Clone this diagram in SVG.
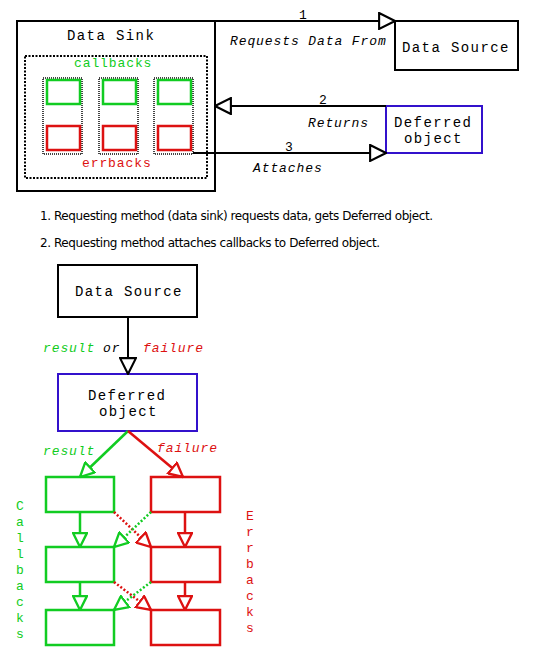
<svg xmlns="http://www.w3.org/2000/svg" width="543" height="664" viewBox="0 0 543 664">
<style>
.bg{fill:#fff}
.box{fill:#fff;stroke:#000;stroke-width:2}
.def{fill:#fff;stroke:#3311cc;stroke-width:2}
.gbox{fill:#fff;stroke:#11cc22;stroke-width:2.5}
.rbox{fill:#fff;stroke:#dd1111;stroke-width:2.5}
.col{fill:none;stroke:#444;stroke-width:2;stroke-dasharray:1 1}
.dots{fill:none;stroke:#000;stroke-width:2;stroke-dasharray:2 1.5}
.nt{font-family:"Liberation Mono","Courier New",monospace;font-size:14px;letter-spacing:1.4px;fill:#000}
.lb{font-family:"Liberation Mono","Courier New",monospace;font-size:13px;letter-spacing:0.9px;fill:#000}
.it{font-style:italic}
.g{fill:#11cc22}
.r{fill:#dd1111}
.k{stroke:#000;stroke-width:2;fill:none}
.gl{stroke:#11cc22;stroke-width:2.5;fill:none}
.rl{stroke:#dd1111;stroke-width:2.5;fill:none}
.gd{stroke:#11cc22;stroke-width:2.5;fill:none;stroke-dasharray:2 2}
.rd{stroke:#dd1111;stroke-width:2.5;fill:none;stroke-dasharray:2 2}
.note{font-family:"DejaVu Sans","Noto Sans",sans-serif;font-size:12px;fill:#000}
</style>
<defs>
<marker id="ak" markerUnits="userSpaceOnUse" markerWidth="18" markerHeight="18" viewBox="-1 -1 17 17" refX="15" refY="7.5" orient="auto">
<path d="M0,0 L15,7.5 L0,15 Z" fill="#fff" stroke="#000" stroke-width="2" stroke-dasharray="none"/>
</marker>
<marker id="ag" markerUnits="userSpaceOnUse" markerWidth="16" markerHeight="16" viewBox="-1 -1 15 15" refX="13" refY="6.5" orient="auto">
<path d="M0,0 L13,6.5 L0,13 Z" fill="#fff" stroke="#11cc22" stroke-width="2.2" stroke-dasharray="none"/>
</marker>
<marker id="ar" markerUnits="userSpaceOnUse" markerWidth="16" markerHeight="16" viewBox="-1 -1 15 15" refX="13" refY="6.5" orient="auto">
<path d="M0,0 L13,6.5 L0,13 Z" fill="#fff" stroke="#dd1111" stroke-width="2.2" stroke-dasharray="none"/>
</marker>
</defs>
<rect class="bg" x="0" y="0" width="543" height="664"/>

<g id="data-sink">
<rect class="box" x="17" y="21" width="198" height="170"/>
<text class="nt" x="67" y="40">Data Sink</text>
<rect class="dots" x="25" y="56" width="182" height="122"/>
<text class="lb g" x="74" y="67">callbacks</text>
<g id="col1">
<rect class="col" x="43" y="78" width="39" height="76"/>
<rect class="gbox" x="47" y="80" width="33" height="24"/>
<rect class="rbox" x="47" y="126" width="33" height="24"/>
</g>
<g id="col2">
<rect class="col" x="99" y="78" width="39" height="76"/>
<rect class="gbox" x="103" y="80" width="33" height="24"/>
<rect class="rbox" x="103" y="126" width="33" height="24"/>
</g>
<g id="col3">
<rect class="col" x="154" y="78" width="39" height="76"/>
<rect class="gbox" x="158" y="80" width="33" height="24"/>
<rect class="rbox" x="158" y="126" width="33" height="24"/>
</g>
<text class="lb r" x="82" y="167">errbacks</text>
</g>

<g id="data-source-top">
<rect class="box" x="395" y="21" width="123" height="49"/>
<text class="nt" x="402" y="52">Data Source</text>
</g>

<g id="deferred-top">
<rect class="def" x="386" y="106" width="96" height="47"/>
<text class="nt" x="394" y="127">Deferred</text>
<text class="nt" x="404" y="143">object</text>
</g>

<g id="connectors-top">
<line class="k" x1="215" y1="21" x2="395" y2="21" marker-end="url(#ak)"/>
<line class="k" x1="386" y1="106" x2="215" y2="106" marker-end="url(#ak)"/>
<line class="k" x1="193" y1="153" x2="386" y2="153" marker-end="url(#ak)"/>
<text class="lb" x="299" y="19">1</text>
<text class="lb it" x="230" y="45">Requests Data From</text>
<text class="lb" x="319" y="104">2</text>
<text class="lb it" x="308" y="127">Returns</text>
<text class="lb" x="285" y="151">3</text>
<text class="lb it" x="253" y="172">Attaches</text>
</g>

<g id="notes">
<text class="note" x="40" y="220" textLength="393" lengthAdjust="spacing">1. Requesting method (data sink) requests data, gets Deferred object.</text>
<text class="note" x="40" y="247" textLength="340" lengthAdjust="spacing">2. Requesting method attaches callbacks to Deferred object.</text>
</g>

<g id="data-source-bottom">
<rect class="box" x="58" y="265" width="139" height="52"/>
<text class="nt" x="75" y="296">Data Source</text>
</g>

<g id="deferred-bottom">
<rect class="def" x="58" y="374" width="139" height="57"/>
<text class="nt" x="88" y="400">Deferred</text>
<text class="nt" x="99" y="416">object</text>
</g>

<g id="cb1"><rect class="gbox" x="46" y="477" width="68" height="35"/></g>
<g id="cb2"><rect class="gbox" x="46" y="547" width="68" height="35"/></g>
<g id="cb3"><rect class="gbox" x="46" y="610" width="68" height="35"/></g>
<g id="eb1"><rect class="rbox" x="151" y="477" width="69" height="35"/></g>
<g id="eb2"><rect class="rbox" x="151" y="547" width="69" height="35"/></g>
<g id="eb3"><rect class="rbox" x="151" y="610" width="69" height="35"/></g>

<g id="connectors-bottom">
<line class="k" x1="128" y1="317" x2="128" y2="374" marker-end="url(#ak)"/>
<text class="lb it g" x="43" y="352">result</text>
<text class="lb it" x="103" y="352">or</text>
<text class="lb it r" x="143" y="352">failure</text>
<line class="gl" x1="128" y1="431" x2="80" y2="477" marker-end="url(#ag)"/>
<line class="rl" x1="128" y1="431" x2="183" y2="477" marker-end="url(#ar)"/>
<text class="lb it g" x="43" y="455">result</text>
<text class="lb it r" x="157" y="452">failure</text>
<line class="gl" x1="80" y1="512" x2="80" y2="547" marker-end="url(#ag)"/>
<line class="gl" x1="80" y1="582" x2="80" y2="610" marker-end="url(#ag)"/>
<line class="rl" x1="185" y1="512" x2="185" y2="547" marker-end="url(#ar)"/>
<line class="rl" x1="185" y1="582" x2="185" y2="610" marker-end="url(#ar)"/>
<line class="rd" x1="114" y1="512" x2="151" y2="547" marker-end="url(#ar)"/>
<line class="gd" x1="151" y1="512" x2="114" y2="547" marker-end="url(#ag)"/>
<line class="rd" x1="114" y1="582" x2="151" y2="610" marker-end="url(#ar)"/>
<line class="gd" x1="151" y1="582" x2="114" y2="610" marker-end="url(#ag)"/>
</g>

<text class="lb g" text-anchor="middle" style="letter-spacing:0"><tspan x="20" y="510">C</tspan><tspan x="20" y="526">a</tspan><tspan x="20" y="542">l</tspan><tspan x="20" y="558">l</tspan><tspan x="20" y="574">b</tspan><tspan x="20" y="590">a</tspan><tspan x="20" y="606">c</tspan><tspan x="20" y="622">k</tspan><tspan x="20" y="638">s</tspan></text>
<text class="lb r" text-anchor="middle" style="letter-spacing:0"><tspan x="250" y="520">E</tspan><tspan x="250" y="536">r</tspan><tspan x="250" y="552">r</tspan><tspan x="250" y="568">b</tspan><tspan x="250" y="584">a</tspan><tspan x="250" y="600">c</tspan><tspan x="250" y="616">k</tspan><tspan x="250" y="632">s</tspan></text>
</svg>
